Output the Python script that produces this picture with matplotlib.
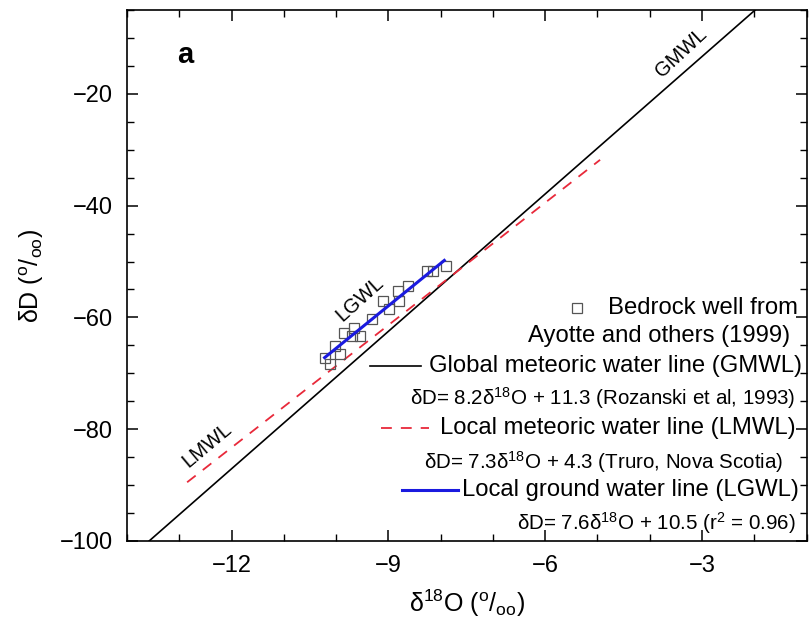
import matplotlib
matplotlib.use('Agg')
import matplotlib.pyplot as plt
from matplotlib.ticker import MultipleLocator

plt.rcParams.update({
    'font.family': ['Liberation Sans', 'DejaVu Sans'],
    'mathtext.fontset': 'custom',
    'mathtext.rm': 'Liberation Sans',
    'mathtext.it': 'Liberation Sans:italic',
    'xtick.direction': 'in',
    'ytick.direction': 'in',
    'xtick.top': True,
    'ytick.right': True,
})

# bedrock well samples (d18O, dD)
well_o = [-10.22, -10.12, -10.03, -9.93, -9.84, -9.70, -9.65, -9.55, -9.32,
          -9.11, -8.98, -8.82, -8.79, -8.63, -8.27, -8.15, -7.89]
well_d = [-67.2, -68.3, -65.1, -66.5, -62.7, -63.3, -61.9, -63.3, -60.3,
          -57.0, -58.5, -55.3, -57.0, -54.4, -51.7, -51.7, -50.8]

# water lines, end points
gmwl_o = [-13.6, -1.9]
gmwl_d = [-100.2, -4.3]
lmwl_o = [-12.85, -4.95]
lmwl_d = [-89.5, -31.8]
lgwl_o = [-10.22, -7.93]
lgwl_d = [-67.2, -49.8]

fig = plt.figure(figsize=(8.09, 6.29), dpi=100)
ax = fig.add_axes([0.157, 0.140, 0.84, 0.844])

ax.plot(gmwl_o, gmwl_d, color='black', lw=1.2)
ax.plot(lmwl_o, lmwl_d, color='#e8293a', lw=1.3, ls=(0, (6, 5)))
ax.plot(well_o, well_d, ls='none', marker='s', ms=7.5, mfc='none',
        mec='#555555', mew=0.9)
ax.plot(lgwl_o, lgwl_d, color='#1a1adf', lw=2.2)

ax.set_xlim(-14, -1)
ax.set_ylim(-100, -5)
ax.xaxis.set_major_locator(MultipleLocator(3))
ax.xaxis.set_minor_locator(MultipleLocator(1))
ax.yaxis.set_major_locator(MultipleLocator(20))
ax.yaxis.set_minor_locator(MultipleLocator(5))
ax.tick_params(which='major', length=8, width=1.1, labelsize=17, pad=10)
ax.tick_params(which='minor', length=5, width=1.0)
for sp in ax.spines.values():
    sp.set_linewidth(1.2)

ax.set_xlabel(r'δ$^{18}$O ($^{\mathrm{o}}$/$_{\mathrm{oo}}$)', fontsize=18, labelpad=8)
ax.set_ylabel(r'δD ($^{\mathrm{o}}$/$_{\mathrm{oo}}$)', fontsize=18, labelpad=10)

ax.text(0.085, 0.915, 'a', transform=ax.transAxes, fontsize=21,
        fontweight='bold', ha='center', va='center')

# line labels
ax.text(0.816, 0.920, 'GMWL', transform=ax.transAxes, fontsize=14.5,
        rotation=43, ha='center', va='center')
ax.text(0.342, 0.456, 'LGWL', transform=ax.transAxes, fontsize=14.5,
        rotation=42, ha='center', va='center')
ax.text(0.118, 0.180, 'LMWL', transform=ax.transAxes, fontsize=14.5,
        rotation=40, ha='center', va='center')

# legend block
tr = ax.transAxes
big = 17.2
small = 14.8
ax.plot([0.662], [0.439], transform=tr, ls='none', marker='s', ms=7.5,
        mfc='none', mec='#555555', mew=0.9)
ax.text(0.988, 0.439, 'Bedrock well from', transform=tr, fontsize=big,
        ha='right', va='center')
ax.text(0.976, 0.386, 'Ayotte and others (1999)', transform=tr, fontsize=big,
        ha='right', va='center')
ax.plot([0.357, 0.433], [0.330, 0.330], transform=tr, color='black', lw=1.2)
ax.text(0.993, 0.330, 'Global meteoric water line (GMWL)', transform=tr,
        fontsize=big, ha='right', va='center')
ax.text(0.984, 0.269, r'δD= 8.2δ$^{18}$O + 11.3 (Rozanski et al, 1993)',
        transform=tr, fontsize=small, ha='right', va='center')
ax.plot([0.374, 0.444], [0.213, 0.213], transform=tr, color='#e8293a',
        lw=1.3, ls=(0, (6, 5)))
ax.text(0.984, 0.213, 'Local meteoric water line (LMWL)', transform=tr,
        fontsize=big, ha='right', va='center')
ax.text(0.965, 0.149, r'δD= 7.3δ$^{18}$O + 4.3 (Truro, Nova Scotia)',
        transform=tr, fontsize=small, ha='right', va='center')
ax.plot([0.405, 0.487], [0.096, 0.096], transform=tr, color='#1a1adf', lw=2.2)
ax.text(0.988, 0.096, 'Local ground water line (LGWL)', transform=tr,
        fontsize=big, ha='right', va='center')
ax.text(0.984, 0.034, r'δD= 7.6δ$^{18}$O + 10.5 (r$^{2}$ = 0.96)',
        transform=tr, fontsize=small, ha='right', va='center')

fig.savefig('out.png', dpi=100)
